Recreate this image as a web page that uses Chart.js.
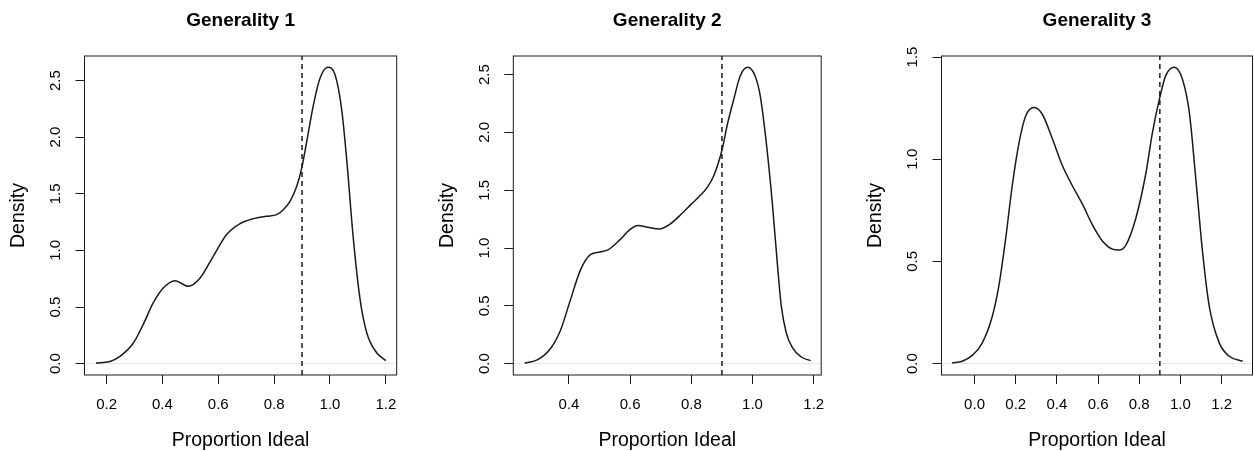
<!DOCTYPE html>
<html>
<head>
<meta charset="utf-8">
<script src="https://cdn.jsdelivr.net/npm/chart.js@4.4.1/dist/chart.umd.min.js"></script>
<style>
  html, body { margin: 0; padding: 0; background: #fff; }
  #wrap { display: flex; width: 1254px; height: 451px; }
  canvas { display: block; }
</style>
</head>
<body>
<div id="wrap">
  <canvas id="chart1" width="418" height="451"></canvas>
  <canvas id="chart2" width="418" height="451"></canvas>
  <canvas id="chart3" width="418" height="451"></canvas>
</div>
<script>
// 데이터
var titles = ['Generality 1', 'Generality 2', 'Generality 3'];
var xLabel = 'Proportion Ideal';
var yLabel = 'Density';
var cutoff = 0.9;
var xStep = 0.2;
var yStep = 0.5;

var g1X = [0.162, 0.212, 0.248, 0.296, 0.331, 0.367, 0.403, 0.445, 0.493, 0.535, 0.582, 0.630, 0.678, 0.726, 0.773, 0.809, 0.833, 0.857, 0.881, 0.899, 0.917, 0.941, 0.965, 0.992, 1.018, 1.042, 1.060, 1.084, 1.108, 1.132, 1.168, 1.200];
var g1Y = [0.006, 0.020, 0.065, 0.183, 0.345, 0.536, 0.668, 0.733, 0.683, 0.757, 0.948, 1.140, 1.237, 1.281, 1.302, 1.316, 1.360, 1.434, 1.567, 1.729, 1.964, 2.288, 2.524, 2.618, 2.553, 2.244, 1.802, 1.095, 0.565, 0.271, 0.094, 0.027];

var g2X = [0.255, 0.298, 0.341, 0.373, 0.405, 0.438, 0.470, 0.502, 0.529, 0.567, 0.599, 0.626, 0.658, 0.696, 0.728, 0.771, 0.799, 0.831, 0.852, 0.874, 0.901, 0.917, 0.939, 0.960, 0.984, 1.008, 1.025, 1.046, 1.065, 1.080, 1.094, 1.110, 1.130, 1.158, 1.190];
var g2Y = [0.006, 0.035, 0.136, 0.294, 0.554, 0.813, 0.943, 0.966, 0.986, 1.073, 1.159, 1.194, 1.179, 1.165, 1.202, 1.303, 1.378, 1.460, 1.525, 1.630, 1.857, 2.060, 2.290, 2.490, 2.563, 2.490, 2.320, 1.886, 1.380, 0.900, 0.500, 0.270, 0.140, 0.060, 0.026];

var g3X = [-0.109, -0.060, -0.011, 0.037, 0.086, 0.118, 0.151, 0.183, 0.216, 0.248, 0.289, 0.329, 0.378, 0.426, 0.475, 0.524, 0.572, 0.621, 0.670, 0.702, 0.735, 0.783, 0.832, 0.864, 0.897, 0.929, 0.970, 1.010, 1.043, 1.075, 1.108, 1.140, 1.189, 1.237, 1.302];
var g3Y = [0.003, 0.011, 0.040, 0.100, 0.230, 0.380, 0.610, 0.870, 1.080, 1.210, 1.253, 1.220, 1.100, 0.970, 0.870, 0.780, 0.680, 0.600, 0.560, 0.556, 0.580, 0.710, 0.930, 1.130, 1.290, 1.410, 1.450, 1.390, 1.230, 0.900, 0.540, 0.280, 0.100, 0.036, 0.011];

// 축 범위
var xLimits = [[0.121, 1.239], [0.218, 1.2245], [-0.1605, 1.35]];
var yLimits = [[-0.100, 2.717], [-0.098, 2.661], [-0.056, 1.505]];

// 패널 안 그림 영역 위치
var plotLeft = [84.5, 95.3, 105.5];
var plotRight = [396.7, 407.3, 416.5];
var plotBottom = 375;
var canvasW = 418;
var canvasH = 451;

var fontFamily = '"Liberation Sans", Arial, Helvetica, sans-serif';
var ink = '#1a1a1a';

// 그림 영역 테두리
var boxPlugin = {
  id: 'box',
  afterDatasetsDraw: function(chart) {
    var a = chart.chartArea;
    var ctx = chart.ctx;
    ctx.save();
    ctx.strokeStyle = ink;
    ctx.lineWidth = 1;
    ctx.strokeRect(a.left, a.top, a.right - a.left, a.bottom - a.top);
    ctx.restore();
  }
};

function toPoints(xs, ys) {
  return xs.map(function(x, k) { return {x: x, y: ys[k]}; });
}

function makeChart(id, i, xs, ys) {
  var xl = xLimits[i];
  var yl = yLimits[i];
  return new Chart(document.getElementById(id), {
    type: 'scatter',
    data: {
      datasets: [{
        data: toPoints(xs, ys),
        showLine: true,
        borderColor: ink,
        borderWidth: 1.5,
        pointRadius: 0,
        cubicInterpolationMode: 'monotone',
        fill: false
      }, {
        data: [{x: cutoff, y: yl[0]}, {x: cutoff, y: yl[1]}],
        showLine: true,
        borderColor: ink,
        borderWidth: 1.5,
        borderDash: [5, 4],
        pointRadius: 0,
        fill: false
      }, {
        data: [{x: xl[0], y: 0}, {x: xl[1], y: 0}],
        showLine: true,
        borderColor: '#e4e4e4',
        borderWidth: 1,
        pointRadius: 0,
        fill: false
      }]
    },
    options: {
      responsive: false,
      animation: false,
      devicePixelRatio: 1,
      layout: {
        padding: {left: 0, top: 0, bottom: 0, right: canvasW - plotRight[i]}
      },
      plugins: {
        legend: {display: false},
        tooltip: {enabled: false},
        title: {
          display: true,
          text: titles[i],
          fullSize: false,
          color: '#000',
          font: {family: fontFamily, size: 19, weight: 'bold', lineHeight: 1.2},
          padding: {top: 9.4, bottom: 23.8}
        }
      },
      scales: {
        x: {
          type: 'linear',
          position: 'bottom',
          min: xl[0],
          max: xl[1],
          afterFit: function(s) { s.height = canvasH - plotBottom; },
          border: {display: false},
          grid: {drawOnChartArea: false, drawTicks: true, tickLength: 9, color: ink, lineWidth: 1},
          ticks: {
            stepSize: xStep,
            includeBounds: false,
            autoSkip: false,
            maxRotation: 0,
            padding: 11.5,
            color: '#000',
            font: {family: fontFamily, size: 15},
            callback: function(v) { return v.toFixed(1); }
          },
          title: {
            display: true,
            text: xLabel,
            color: '#000',
            font: {family: fontFamily, size: 19.5, lineHeight: 1},
            padding: {top: 0, bottom: 0.75}
          }
        },
        y: {
          type: 'linear',
          position: 'left',
          min: yl[0],
          max: yl[1],
          afterFit: function(s) { s.width = plotLeft[i]; },
          border: {display: false},
          grid: {drawOnChartArea: false, drawTicks: true, tickLength: 9, color: ink, lineWidth: 1},
          ticks: {
            stepSize: yStep,
            includeBounds: false,
            autoSkip: false,
            minRotation: 90,
            maxRotation: 90,
            crossAlign: 'center',
            padding: 9.2,
            color: '#000',
            font: {family: fontFamily, size: 15},
            callback: function(v) { return v.toFixed(1); }
          },
          title: {
            display: true,
            text: yLabel,
            color: '#000',
            font: {family: fontFamily, size: 19.5, lineHeight: 1},
            padding: {top: plotLeft[i] - 65.7 - 9.75, bottom: 0}
          }
        }
      }
    },
    plugins: [boxPlugin]
  });
}

var chart1 = makeChart('chart1', 0, g1X, g1Y);
var chart2 = makeChart('chart2', 1, g2X, g2Y);
var chart3 = makeChart('chart3', 2, g3X, g3Y);
</script>
</body>
</html>
